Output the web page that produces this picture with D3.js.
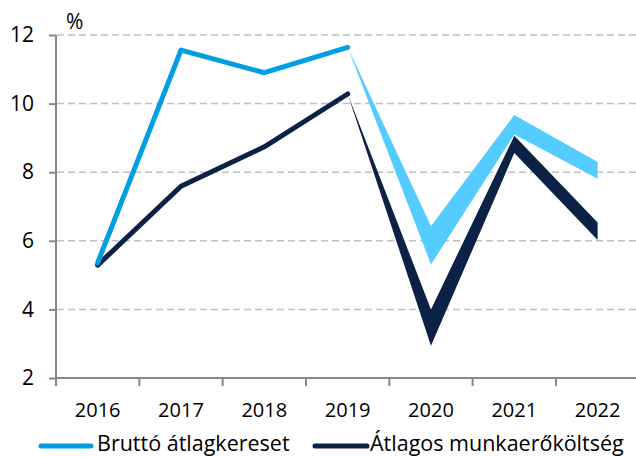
<!DOCTYPE html>
<html><head><meta charset="utf-8">
<script src="https://cdn.jsdelivr.net/npm/d3@7"></script>
<style>body{margin:0;background:#fff}svg{display:block}text{font-family:"Open Sans",sans-serif;fill:#000}</style>
</head><body><div id="c"></div>
<script>
const years = ["2016","2017","2018","2019","2020","2021","2022"];
const yTicks = [2,4,6,8,10,12];
const seriesNames = ["Bruttó átlagkereset","Átlagos munkaerőköltség"];
// actual values 2016-2019
const brutto = [5.36, 11.56, 10.9, 11.64];
const munka = [5.29, 7.59, 8.74, 10.28];
// forecast band 2019-2022 (upper / lower)
const forecastYears = ["2019","2020","2021","2022"];
const bruttoUpper = [11.64, 6.43, 9.67, 8.30];
const bruttoLower = [11.64, 5.31, 9.10, 7.81];
const munkaUpper = [10.28, 4.0, 9.06, 6.53];
const munkaLower = [10.28, 2.94, 8.56, 6.02];

const W=636,H=457;
const colLight="#009fe3", colBand="#55ccff", colDark="#0c2146";
const svg=d3.select("#c").append("svg").attr("width",W).attr("height",H);
const x=d3.scaleBand().domain(years).range([56,639.3]);
const xc=d=>x(d)+x.bandwidth()/2;
const y=d3.scaleLinear().domain([2,12]).range([378,35]);

// gridlines
svg.append("g").selectAll("line").data(yTicks.filter(v=>v>2)).join("line")
  .attr("x1",57).attr("x2",W).attr("y1",d=>y(d)).attr("y2",d=>y(d))
  .attr("stroke","#bfbfbf").attr("stroke-width",1.5).attr("stroke-dasharray","7,4");

// y axis
const ya=svg.append("g").attr("transform","translate(56,0)")
  .call(d3.axisLeft(y).tickValues(yTicks).tickSize(7).tickPadding(15).tickFormat(d3.format("d")));
ya.select(".domain").attr("stroke","#888").attr("stroke-width",2).attr("d",`M0,${y(12)}V386`);
ya.selectAll(".tick line").attr("stroke","#888").attr("stroke-width",2);
ya.selectAll(".tick text").attr("font-size",21).attr("font-family","Open Sans").attr("fill","#000");

// x axis
svg.append("line").attr("x1",56).attr("x2",W).attr("y1",y(2)).attr("y2",y(2)).attr("stroke","#888").attr("stroke-width",2);
const bounds=years.map(d=>x(d)).concat([x.range()[1]]);
svg.append("g").selectAll("line").data(bounds).join("line")
  .attr("x1",d=>d).attr("x2",d=>d).attr("y1",y(2)).attr("y2",y(2)+8).attr("stroke","#888").attr("stroke-width",2);
svg.append("g").selectAll("text").data(years).join("text")
  .attr("x",xc).attr("y",417).attr("text-anchor","middle").attr("font-size",20).text(d=>d);

svg.append("text").attr("x",66).attr("y",29).attr("font-size",21).text("%");

// bands
const area=d3.area().x((d,i)=>xc(forecastYears[i])).y0(d=>y(d[1])).y1(d=>y(d[0]));
svg.append("path").datum(bruttoUpper.map((v,i)=>[v,bruttoLower[i]])).attr("d",area).attr("fill",colBand);
svg.append("path").datum(munkaUpper.map((v,i)=>[v,munkaLower[i]])).attr("d",area).attr("fill",colDark);

// lines
const line=d3.line().x((d,i)=>xc(years[i])).y(d=>y(d));
svg.append("path").datum(munka).attr("d",line).attr("fill","none").attr("stroke",colDark).attr("stroke-width",5).attr("stroke-linecap","round").attr("stroke-linejoin","round");
svg.append("path").datum(brutto).attr("d",line).attr("fill","none").attr("stroke",colLight).attr("stroke-width",5).attr("stroke-linecap","round").attr("stroke-linejoin","round");

// legend
const leg=[{name:seriesNames[0],c:colLight,x1:41,x2:91,tx:97},{name:seriesNames[1],c:colDark,x1:315,x2:367,tx:370}];
const lg=svg.append("g").selectAll("g").data(leg).join("g");
lg.append("line").attr("x1",d=>d.x1).attr("x2",d=>d.x2).attr("y1",446).attr("y2",446).attr("stroke",d=>d.c).attr("stroke-width",5).attr("stroke-linecap","round");
lg.append("text").attr("x",d=>d.tx).attr("y",451).attr("font-size",21.5).text(d=>d.name);
</script></body></html>
